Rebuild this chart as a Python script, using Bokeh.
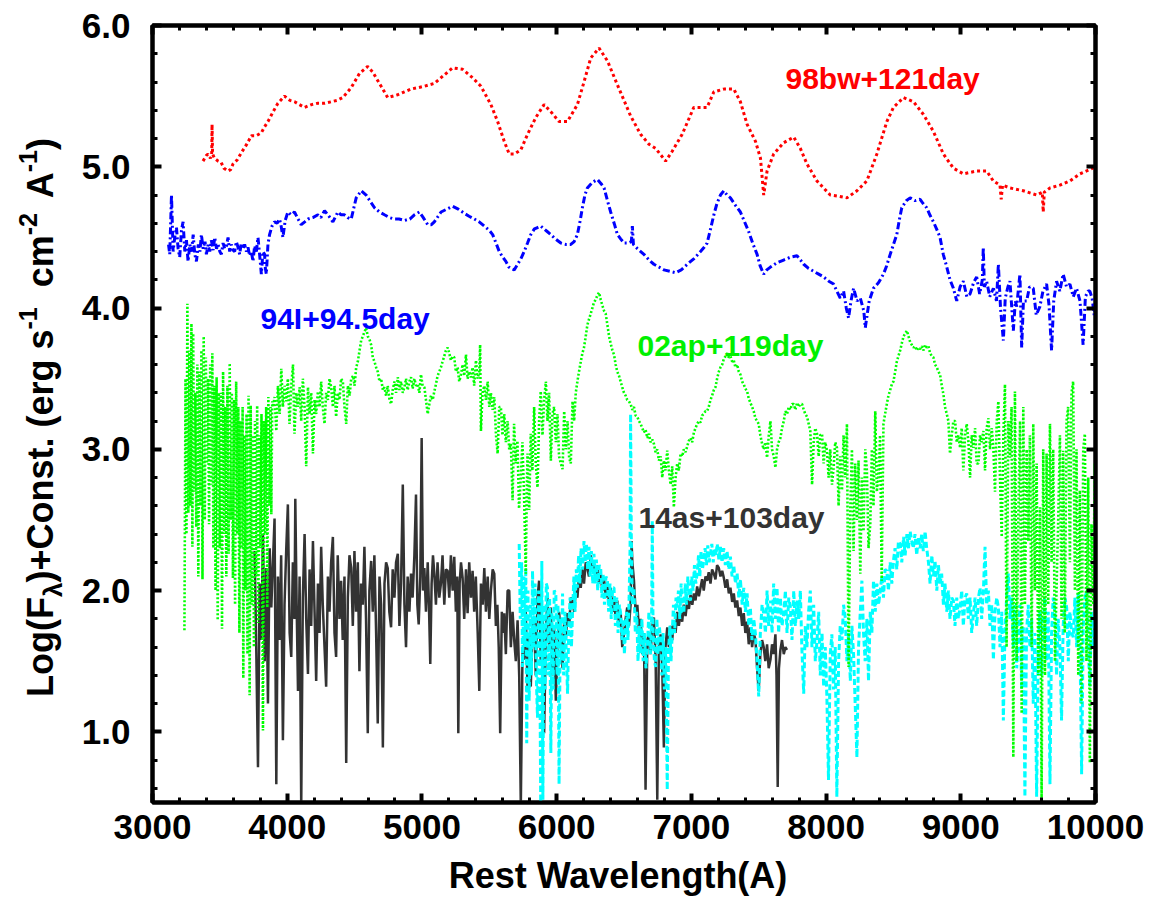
import math
from bokeh.plotting import figure
from bokeh.layouts import row, column
from bokeh.models import (Range1d, LinearAxis, FixedTicker, PrintfTickFormatter,
                          CustomJSTickFormatter, Label, Div)
from bokeh.embed import file_html
from bokeh.resources import INLINE

# ---------------- data ----------------
X_TICKS = [3000, 4000, 5000, 6000, 7000, 8000, 9000, 10000]
Y_TICKS = [1.0, 2.0, 3.0, 4.0, 5.0, 6.0]

SN98BW = [(3375,5.04),(3400,5.08),(3412,5.09),(3430,5.06),(3440,5.10),(3442,5.30),(3446,5.09),(3460,5.06),
 (3487,5.04),(3510,5.03),(3530,4.99),(3561,4.97),(3580,4.98),(3598,5.02),(3630,5.05),(3660,5.10),(3700,5.16),
 (3734,5.22),(3770,5.22),(3808,5.24),(3830,5.28),(3857,5.32),(3890,5.38),(3931,5.45),(3980,5.50),(4020,5.47),
 (4055,5.46),(4090,5.44),(4129,5.42),(4180,5.44),(4228,5.45),(4280,5.45),(4326,5.46),(4370,5.47),(4413,5.49),
 (4475,5.56),(4536,5.66),(4598,5.71),(4635,5.67),(4697,5.57),(4746,5.49),(4821,5.51),(4870,5.53),(4919,5.55),
 (4970,5.56),(5018,5.57),(5092,5.59),(5166,5.65),(5228,5.70),(5302,5.69),(5376,5.63),(5438,5.57),(5512,5.44),
 (5562,5.32),(5611,5.18),(5648,5.09),(5685,5.09),(5734,5.12),(5784,5.23),(5846,5.35),(5907,5.44),(5957,5.39),
 (6018,5.32),(6080,5.32),(6154,5.44),(6203,5.60),(6253,5.77),(6315,5.84),(6377,5.75),(6451,5.58),(6549,5.36),
 (6623,5.23),(6685,5.16),(6735,5.13),(6809,5.04),(6858,5.11),(6932,5.23),(7018,5.42),(7117,5.42),(7167,5.53),
 (7241,5.55),(7315,5.55),(7364,5.46),(7414,5.30),(7476,5.18),(7513,5.06),(7537,4.80),(7562,4.97),(7611,5.09),
 (7685,5.17),(7760,5.21),(7809,5.13),(7858,5.02),(7932,4.90),(8031,4.80),(8100,4.79),(8155,4.78),(8229,4.83),
 (8303,4.90),(8377,5.09),(8451,5.32),(8500,5.42),(8575,5.49),(8649,5.46),(8723,5.37),(8797,5.25),(8871,5.09),
 (8945,4.99),(9019,4.95),(9118,4.97),(9192,4.97),(9241,4.90),(9291,4.87),(9300,4.77),(9310,4.87),(9365,4.85),
 (9464,4.83),(9563,4.80),(9605,4.82),(9612,4.68),(9620,4.82),(9662,4.85),(9736,4.87),(9810,4.90),(9884,4.95),
 (9958,4.98),(10000,5.00)]

SN94I = [(3119,4.45),(3128,4.38),(3141,4.80),(3153,4.40),(3165,4.50),(3178,4.57),(3190,4.42),(3202,4.36),
 (3215,4.55),(3227,4.61),(3240,4.40),(3252,4.48),(3264,4.33),(3277,4.45),(3290,4.40),(3302,4.52),(3314,4.38),
 (3326,4.33),(3340,4.45),(3352,4.40),(3363,4.52),(3376,4.42),(3390,4.47),(3400,4.38),(3413,4.45),(3425,4.40),
 (3437,4.48),(3450,4.41),(3462,4.50),(3475,4.42),(3487,4.45),(3500,4.40),(3511,4.38),(3524,4.46),(3536,4.42),
 (3549,4.44),(3561,4.50),(3573,4.40),(3585,4.45),(3598,4.41),(3610,4.40),(3622,4.47),(3635,4.43),(3647,4.38),
 (3659,4.46),(3672,4.42),(3684,4.45),(3697,4.40),(3709,4.43),(3721,4.37),(3734,4.40),(3746,4.33),(3758,4.44),
 (3771,4.40),(3783,4.50),(3795,4.38),(3808,4.24),(3820,4.40),(3832,4.38),(3838,4.28),(3845,4.24),(3857,4.45),
 (3869,4.52),(3887,4.58),(3906,4.61),(3925,4.60),(3943,4.63),(3955,4.58),(3968,4.50),(3985,4.62),(4005,4.68),
 (4030,4.66),(4054,4.68),(4080,4.63),(4104,4.59),(4130,4.61),(4154,4.63),(4190,4.64),(4228,4.66),(4250,4.64),
 (4277,4.69),(4310,4.65),(4339,4.61),(4376,4.68),(4400,4.66),(4425,4.66),(4450,4.64),(4475,4.63),(4512,4.78),
 (4549,4.83),(4586,4.80),(4620,4.75),(4648,4.71),(4685,4.68),(4722,4.66),(4760,4.64),(4796,4.63),(4830,4.63),
 (4870,4.62),(4910,4.63),(4944,4.66),(4981,4.68),(5010,4.64),(5043,4.59),(5070,4.59),(5092,4.61),(5142,4.68),
 (5185,4.70),(5228,4.72),(5270,4.70),(5315,4.67),(5350,4.65),(5389,4.63),(5425,4.61),(5463,4.58),(5500,4.55),
 (5525,4.52),(5550,4.46),(5574,4.40),(5600,4.36),(5623,4.33),(5645,4.29),(5660,4.28),(5685,4.27),(5710,4.31),
 (5735,4.35),(5759,4.40),(5784,4.46),(5808,4.52),(5835,4.56),(5858,4.57),(5882,4.58),(5907,4.56),(5932,4.54),
 (5957,4.52),(5990,4.49),(6031,4.46),(6070,4.45),(6105,4.45),(6130,4.47),(6154,4.52),(6175,4.62),(6191,4.71),
 (6210,4.80),(6228,4.85),(6265,4.89),(6303,4.91),(6330,4.88),(6352,4.85),(6380,4.75),(6401,4.68),(6430,4.59),
 (6451,4.52),(6475,4.49),(6500,4.46),(6530,4.46),(6555,4.47),(6562,4.58),(6570,4.45),(6600,4.42),(6648,4.38),
 (6697,4.33),(6722,4.31),(6760,4.29),(6796,4.27),(6840,4.26),(6883,4.25),(6925,4.27),(6970,4.31),(7020,4.35),
 (7068,4.40),(7095,4.43),(7117,4.46),(7140,4.55),(7167,4.66),(7190,4.74),(7216,4.80),(7241,4.83),(7265,4.80),
 (7290,4.78),(7325,4.73),(7364,4.68),(7395,4.61),(7426,4.54),(7455,4.46),(7488,4.38),(7510,4.30),(7537,4.24),
 (7560,4.27),(7587,4.29),(7635,4.32),(7685,4.34),(7735,4.36),(7784,4.37),(7810,4.34),(7834,4.31),(7870,4.28),
 (7908,4.26),(7945,4.24),(7982,4.22),(8020,4.19),(8056,4.17),(8080,4.12),(8105,4.07),(8130,4.12),(8150,4.00),
 (8167,3.93),(8185,4.05),(8204,4.14),(8230,4.05),(8254,4.07),(8280,3.98),(8291,3.86),(8303,3.94),(8320,4.05),
 (8352,4.14),(8390,4.18),(8426,4.24),(8450,4.30),(8476,4.38),(8500,4.45),(8525,4.52),(8545,4.63),(8562,4.71),
 (8595,4.76),(8624,4.78),(8660,4.76),(8698,4.77),(8720,4.74),(8747,4.71),(8770,4.66),(8797,4.61),(8820,4.56),
 (8846,4.50),(8870,4.38),(8896,4.29),(8920,4.20),(8945,4.14),(8970,4.05),(8995,4.15),(9019,4.19),(9045,4.08),
 (9069,4.10),(9095,4.18),(9118,4.22),(9140,4.10),(9160,4.20),(9167,4.43),(9175,4.15),(9192,4.19),(9215,4.08),
 (9242,4.14),(9265,4.05),(9279,4.31),(9295,4.00),(9316,3.77),(9330,4.07),(9350,4.15),(9365,4.19),(9390,3.84),
 (9405,4.05),(9415,4.01),(9439,4.24),(9452,3.72),(9465,4.05),(9489,4.05),(9510,4.15),(9538,4.14),(9560,3.95),
 (9587,4.01),(9610,4.12),(9637,4.17),(9655,4.02),(9674,3.70),(9690,4.05),(9711,4.19),(9735,4.12),(9760,4.24),
 (9785,4.15),(9810,4.17),(9835,4.08),(9859,4.14),(9885,4.05),(9908,3.74),(9925,4.08),(9945,4.12),(9958,4.12),
 (9975,4.07),(9990,3.95),(10000,4.05)]

SN02AP = [(3237,1.72),(3245,3.50),(3252,2.40),(3259,4.03),(3266,2.55),(3274,3.70),(3281,2.60),(3289,3.89),
 (3296,2.31),(3302,3.82),(3310,2.70),(3318,3.40),(3325,2.45),(3333,3.60),(3340,2.10),(3348,3.55),(3356,2.60),
 (3363,3.70),(3371,2.08),(3380,3.80),(3388,2.50),(3396,3.65),(3404,2.90),(3412,3.50),(3420,2.47),(3428,3.60),
 (3436,2.75),(3444,3.68),(3452,2.30),(3460,3.45),(3468,2.00),(3476,3.51),(3484,1.79),(3492,3.40),(3500,2.30),
 (3508,3.40),(3516,1.73),(3524,3.55),(3532,2.40),(3540,3.30),(3548,2.10),(3556,3.45),(3565,2.26),(3573,3.61),
 (3581,2.50),(3589,3.40),(3597,2.09),(3605,3.35),(3613,1.90),(3621,3.48),(3629,2.40),(3637,3.30),(3645,1.70),
 (3653,3.20),(3661,2.30),(3669,3.30),(3674,1.38),(3682,3.10),(3690,2.00),(3698,3.25),(3705,1.55),(3713,3.38),
 (3721,1.26),(3729,3.31),(3737,1.90),(3745,3.10),(3753,1.60),(3761,3.20),(3769,2.10),(3777,3.31),(3785,1.77),
 (3793,3.10),(3801,2.30),(3809,3.25),(3820,1.01),(3828,3.20),(3836,2.40),(3844,3.30),(3852,1.88),(3860,3.37),
 (3868,2.60),(3876,3.30),(3882,2.54),(3889,3.34),
 (3895,3.30),(3906,3.37),(3919,3.13),(3931,3.45),(3944,3.25),(3956,3.57),(3968,3.30),(3981,3.45),(3993,3.34),
 (4005,3.50),(4017,3.18),(4030,3.45),(4043,3.60),(4054,3.11),(4067,3.40),(4080,3.30),(4092,3.44),(4104,3.20),
 (4116,3.50),(4129,3.30),(4141,2.88),(4154,3.44),(4166,3.25),(4178,3.40),(4191,2.97),(4203,3.35),(4215,3.25),
 (4228,3.41),(4240,3.30),(4252,3.48),(4264,3.30),(4277,3.18),(4289,3.40),(4302,3.35),(4314,3.50),(4326,3.44),
 (4339,3.30),(4351,3.45),(4363,3.23),(4376,3.40),(4388,3.35),(4400,3.50),(4413,3.48),(4425,3.30),(4438,3.18),
 (4450,3.45),(4463,3.38),(4475,3.50),(4490,3.52),(4500,3.45),(4512,3.58),(4524,3.62),(4537,3.70),(4549,3.77),
 (4561,3.80),(4573,3.83),(4586,3.86),(4598,3.80),(4610,3.78),(4623,3.74),(4635,3.65),(4648,3.62),(4660,3.58),
 (4672,3.55),(4685,3.48),(4697,3.50),(4710,3.42),(4721,3.44),(4734,3.38),(4746,3.45),(4758,3.36),(4771,3.32),
 (4783,3.42),(4796,3.48),(4808,3.40),(4821,3.51),(4833,3.42),(4845,3.48),(4858,3.40),(4870,3.44),(4882,3.50),
 (4894,3.42),(4907,3.48),(4919,3.51),(4931,3.43),(4944,3.50),(4956,3.45),(4969,3.46),(4981,3.40),(4993,3.53),
 (5005,3.45),(5018,3.44),(5030,3.35),(5043,3.25),(5055,3.32),(5067,3.38),(5080,3.35),(5092,3.41),(5104,3.46),
 (5116,3.52),(5129,3.55),(5141,3.58),(5153,3.62),(5166,3.66),(5178,3.70),(5191,3.72),(5203,3.68),(5215,3.63),
 (5228,3.66),(5240,3.65),(5252,3.55),(5265,3.58),(5277,3.48),(5290,3.53),(5302,3.60),(5314,3.52),(5327,3.67),
 (5339,3.50),(5351,3.55),(5364,3.51),(5376,3.58),(5388,3.45),(5401,3.63),(5413,3.50),(5426,3.55),(5432,3.74),
 (5438,3.13),(5450,3.40),(5463,3.45),(5475,3.35),(5488,3.48),(5500,3.30),(5512,3.40),(5525,3.28),(5537,3.37),
 (5550,3.10),(5562,2.97),(5574,3.30),(5586,3.30),(5598,3.10),(5611,3.25),(5623,3.05),(5636,3.20),(5648,3.00),
 (5660,3.04),(5673,2.64),(5684,3.18),(5697,2.90),(5709,3.06),(5721,2.58),(5734,2.80),(5746,3.05),(5759,2.64),
 (5771,2.12),(5778,2.70),(5784,2.97),(5796,2.57),(5808,3.11),(5820,2.85),(5833,3.30),(5845,2.90),(5858,2.73),
 (5870,3.20),(5882,3.41),(5895,3.10),(5907,3.35),(5920,3.48),(5932,3.20),(5944,3.40),(5957,2.92),(5969,3.25),
 (5981,3.30),(5994,3.05),(6006,3.25),(6018,2.95),(6031,2.90),(6044,2.86),(6056,3.27),(6068,3.00),(6081,3.20),
 (6093,2.94),(6105,2.90),(6118,3.34),(6130,3.20),(6142,3.40),(6154,3.48),(6166,3.55),(6179,3.62),(6191,3.68),
 (6203,3.72),(6216,3.80),(6228,3.88),(6240,3.92),(6253,3.96),(6265,4.00),(6277,4.04),(6290,4.06),(6302,4.09),
 (6315,4.11),(6327,4.06),(6339,4.02),(6352,3.98),(6364,3.96),(6377,3.88),(6389,3.80),(6401,3.75),(6414,3.70),
 (6426,3.67),(6438,3.60),(6450,3.55),(6463,3.52),(6475,3.48),(6487,3.44),(6500,3.40),(6512,3.38),(6524,3.35),
 (6537,3.34),(6549,3.32),(6562,3.28),(6574,3.30),(6586,3.24),(6599,3.23),(6611,3.20),(6623,3.18),(6636,3.15),
 (6648,3.12),(6660,3.14),(6673,3.08),(6685,3.11),(6697,3.05),(6710,3.07),(6722,3.04),(6734,2.98),(6747,3.00),
 (6759,2.92),(6772,2.95),(6784,2.80),(6796,2.92),(6808,2.85),(6821,2.99),(6833,2.85),(6846,2.75),(6858,2.88),
 (6870,2.59),(6883,2.80),(6895,2.90),(6907,2.85),(6920,2.97),(6932,2.95),(6944,3.00),(6957,2.98),(6969,3.02),
 (6981,3.06),(6994,3.08),(7006,3.05),(7019,3.12),(7031,3.15),(7043,3.18),(7056,3.20),(7068,3.19),(7080,3.24),
 (7092,3.25),(7105,3.27),(7117,3.27),(7129,3.30),(7142,3.35),(7154,3.38),(7167,3.42),(7179,3.44),(7191,3.50),
 (7204,3.55),(7216,3.58),(7229,3.60),(7241,3.64),(7254,3.66),(7266,3.68),(7278,3.65),(7290,3.66),(7303,3.62),
 (7315,3.63),(7327,3.58),(7340,3.60),(7352,3.55),(7364,3.53),(7377,3.48),(7389,3.46),(7401,3.43),(7414,3.41),
 (7426,3.36),(7438,3.33),(7451,3.30),(7463,3.27),(7475,3.22),(7488,3.20),(7500,3.18),(7512,3.10),(7525,3.04),
 (7537,3.00),(7550,3.05),(7562,2.94),(7575,3.10),(7587,3.20),(7599,3.00),(7612,2.95),(7624,2.87),(7636,3.00),
 (7648,3.05),(7661,3.08),(7673,3.15),(7686,3.20),(7698,3.27),(7710,3.25),(7723,3.30),(7735,3.28),(7747,3.32),
 (7760,3.32),(7772,3.28),(7785,3.33),(7797,3.30),(7809,3.32),(7822,3.32),(7834,3.28),(7846,3.25),(7859,3.23),
 (7871,3.18),(7883,3.13),(7896,2.75),(7908,3.05),(7920,3.15),(7933,3.11),(7945,2.95),(7957,3.10),(7970,3.11),
 (7982,2.90),(7994,3.05),(8007,2.99),(8019,2.80),(8031,3.00),(8044,2.75),(8056,2.87),(8068,3.05),(8081,3.01),
 (8093,2.60),(8105,2.95),(8118,2.71),(8130,3.10),(8142,2.80),(8155,3.18),(8167,1.46),(8180,2.59),(8192,3.00),
 (8204,2.28),(8216,2.90),(8229,2.50),(8241,2.92),(8254,2.12),(8266,2.80),(8278,2.42),(8291,3.00),(8303,2.85),
 (8315,2.30),(8328,2.47),(8340,3.00),(8352,2.60),(8365,3.27),(8377,2.70),(8389,2.80),(8401,3.10),(8413,2.07),
 (8426,3.18),(8438,3.25),(8451,3.32),(8463,3.38),(8476,3.42),(8488,3.46),(8500,3.48),(8513,3.55),(8525,3.62),
 (8537,3.66),(8550,3.70),(8562,3.75),(8575,3.80),(8587,3.82),(8600,3.84),(8612,3.80),(8624,3.76),(8636,3.74),
 (8649,3.72),(8661,3.73),(8673,3.70),(8686,3.72),(8698,3.71),(8710,3.73),(8723,3.70),(8735,3.74),(8747,3.72),
 (8760,3.73),(8772,3.68),(8785,3.66),(8797,3.65),(8809,3.60),(8822,3.58),(8834,3.55),(8846,3.53),(8859,3.45),
 (8871,3.39),(8883,3.30),(8896,3.25),(8908,3.20),(8920,2.97),(8933,3.10),(8945,3.20),(8958,3.20),(8970,3.05),
 (8982,3.10),(8995,3.01),(9007,3.15),(9019,2.85),(9032,3.10),(9044,3.18),(9057,3.05),(9069,2.80),(9081,3.10),
 (9094,3.01),(9106,3.15),(9118,2.90),(9131,2.90),(9143,3.10),(9155,3.05),(9168,3.13),(9180,2.85),(9192,3.15),
 (9205,3.22),(9217,3.00),(9230,3.15),(9242,3.01),(9254,2.70),(9267,3.20),(9279,3.34),(9291,2.80),(9304,2.38),
 (9316,3.10),(9328,3.46),(9340,1.60),(9353,3.20),(9365,2.94),(9377,3.30),(9390,0.82),(9402,3.41),(9415,1.50),
 (9427,2.52),(9440,3.20),(9452,1.13),(9464,3.30),(9476,1.90),(9489,3.00),(9501,2.35),(9513,3.10),(9526,1.60),
 (9538,3.18),(9550,2.00),(9563,2.90),(9575,1.40),(9588,2.59),(9600,0.52),(9612,3.00),(9625,1.40),(9637,2.97),
 (9649,1.90),(9662,3.18),(9674,2.20),(9686,3.00),(9699,1.50),(9711,2.02),(9723,2.49),(9736,3.10),(9748,1.80),
 (9760,2.99),(9772,1.70),(9785,3.20),(9797,3.30),(9810,2.20),(9822,3.40),(9834,3.48),(9847,2.00),(9859,3.00),
 (9872,1.40),(9884,2.71),(9896,1.20),(9909,3.00),(9921,3.11),(9933,1.50),(9946,2.80),(9958,0.78),(9970,2.47),
 (9983,1.90),(9995,2.90),(10000,2.60)]

SN14AS = [(3758,2.28),(3770,1.60),(3783,0.75),(3795,2.05),(3808,1.65),(3820,2.40),(3833,1.50),(3845,2.16),
 (3857,1.20),(3870,2.30),(3882,1.88),(3894,2.20),(3906,2.51),(3919,0.63),(3931,2.10),(3943,1.65),(3955,2.25),
 (3968,0.94),(3980,1.90),(3993,2.30),(4005,2.61),(4018,1.70),(4030,1.53),(4042,2.20),(4054,1.80),(4060,2.65),
 (4070,1.90),(4080,1.29),(4092,2.10),(4104,0.47),(4116,1.95),(4129,2.40),(4141,1.80),(4154,1.41),(4166,2.15),
 (4178,1.75),(4191,2.35),(4203,1.85),(4215,1.36),(4228,2.05),(4240,1.70),(4252,2.31),(4264,1.90),(4277,1.60),
 (4289,1.32),(4302,2.10),(4314,1.85),(4326,2.20),(4339,2.38),(4351,1.70),(4363,1.53),(4375,2.25),(4388,1.80),
 (4400,2.07),(4412,1.65),(4425,2.10),(4438,0.78),(4450,1.95),(4462,2.25),(4475,2.16),(4487,1.75),(4499,2.28),
 (4511,1.85),(4524,2.20),(4536,1.43),(4548,2.05),(4561,1.90),(4573,2.31),(4585,1.80),(4598,0.99),(4610,2.00),
 (4623,2.21),(4635,1.85),(4647,2.25),(4660,1.70),(4672,1.06),(4685,2.10),(4697,1.90),(4710,0.89),(4722,2.05),
 (4734,2.20),(4746,2.16),(4758,1.85),(4771,1.74),(4783,2.15),(4796,1.95),(4808,2.20),(4821,2.26),(4833,1.75),
 (4845,2.05),(4858,2.75),(4870,1.90),(4882,1.60),(4894,2.10),(4907,1.85),(4919,2.12),(4931,1.95),(4944,2.25),
 (4956,2.68),(4966,1.90),(4976,1.76),(4988,2.10),(4998,3.08),(5008,2.00),(5018,2.16),(5030,1.85),(5043,2.20),
 (5052,1.90),(5062,1.48),(5072,2.05),(5082,2.25),(5092,2.12),(5104,1.90),(5116,2.20),(5129,1.95),(5141,2.05),
 (5153,2.25),(5166,1.90),(5178,2.15),(5191,2.14),(5203,1.95),(5215,2.25),(5228,2.00),(5240,2.24),(5252,1.85),
 (5262,2.10),(5270,0.99),(5280,2.05),(5290,2.20),(5302,2.09),(5314,1.80),(5327,2.15),(5339,1.84),(5351,2.20),
 (5364,1.95),(5376,2.14),(5388,1.85),(5400,2.10),(5414,1.70),(5426,1.29),(5438,2.05),(5451,1.90),(5463,2.16),
 (5475,1.85),(5488,2.10),(5500,1.80),(5512,2.00),(5525,2.15),(5537,2.12),(5549,1.75),(5560,1.90),(5570,1.60),
 (5581,0.99),(5593,1.85),(5600,1.70),(5611,1.84),(5623,1.55),(5636,2.00),(5648,2.00),(5660,1.60),(5673,1.85),
 (5685,1.65),(5697,1.50),(5710,1.79),(5722,1.40),(5734,0.47),(5747,1.60),(5759,1.51),(5771,1.85),(5784,1.30),
 (5796,1.70),(5808,1.32),(5821,1.75),(5833,1.81),(5845,1.40),(5858,1.95),(5870,2.07),(5882,1.50),(5895,1.80),
 (5907,0.99),(5920,1.70),(5932,1.95),(5944,1.60),(5957,1.88),(5969,1.40),(5981,1.75),(5994,1.22),(6006,1.60),
 (6018,1.85),(6031,1.69),(6044,1.45),(6056,1.80),(6068,1.65),(6080,1.84),(6093,1.75),(6105,1.95),(6118,1.93),
 (6130,1.85),(6142,2.00),(6154,1.95),(6166,2.10),(6179,2.02),(6191,2.15),(6203,2.05),(6216,2.20),(6228,2.16),
 (6240,2.10),(6253,2.25),(6265,2.15),(6277,2.19),(6290,2.10),(6302,2.18),(6314,2.05),(6327,2.12),(6339,2.00),
 (6352,2.08),(6364,1.95),(6377,2.05),(6389,1.90),(6401,2.02),(6414,1.85),(6426,1.95),(6438,1.80),(6450,1.93),
 (6463,1.75),(6475,1.85),(6487,1.60),(6500,1.69),(6512,1.80),(6524,1.88),(6537,1.75),(6549,1.90),(6556,2.35),
 (6562,2.20),(6574,2.07),(6586,1.85),(6599,1.90),(6611,1.72),(6623,1.80),(6636,1.55),(6648,1.70),(6660,0.59),
 (6673,1.65),(6685,1.69),(6697,1.55),(6710,1.75),(6722,1.81),(6735,1.50),(6747,0.52),(6759,1.60),(6772,1.69),
 (6784,1.45),(6796,0.89),(6808,1.60),(6821,1.74),(6833,1.60),(6846,1.75),(6858,1.65),(6870,1.79),(6883,1.70),
 (6895,1.85),(6907,1.75),(6920,1.84),(6932,1.78),(6944,1.90),(6957,1.82),(6970,1.93),(6982,1.87),(6994,1.97),
 (7007,1.90),(7019,1.98),(7031,1.93),(7043,2.03),(7056,1.96),(7068,2.02),(7080,2.08),(7092,2.00),(7105,2.10),
 (7117,2.07),(7129,2.13),(7142,2.05),(7154,2.15),(7167,2.12),(7179,2.08),(7191,2.18),(7204,2.16),(7216,2.10),
 (7229,2.14),(7241,2.09),(7253,2.02),(7266,2.08),(7278,1.98),(7290,2.02),(7303,1.92),(7315,1.98),(7327,1.88),
 (7340,1.93),(7352,1.82),(7364,1.88),(7377,1.75),(7389,1.84),(7401,1.70),(7414,1.78),(7426,1.62),(7438,1.74),
 (7451,1.60),(7463,1.70),(7476,1.65),(7488,1.45),(7500,1.29),(7512,1.55),(7525,1.65),(7537,1.60),(7549,1.50),
 (7562,1.62),(7574,1.45),(7587,1.51),(7599,1.62),(7611,1.55),(7624,1.69),(7632,1.40),(7641,0.61),(7650,1.45),
 (7661,1.58),(7673,1.65),(7686,1.55),(7698,1.60),(7710,1.58)]

SN14AS_EXT = [(5722,2.33),(5730,1.80),(5740,2.20),(5747,1.46),(5757,2.10),(5765,1.60),(5771,2.16),(5778,0.92),
 (5787,2.00),(5796,1.22),(5805,1.90),(5813,1.40),(5821,2.14),(5830,1.60),(5840,2.05),(5850,1.35),(5858,1.10),
 (5866,2.00),(5875,1.50),(5882,0.47),(5890,2.21),(5898,0.52),(5906,1.90),(5915,1.30),(5923,2.05),(5932,2.02),
 (5940,1.40),(5948,1.95),(5957,0.85),(5965,1.85),(5974,1.30),(5982,2.00),(5994,1.98),(6003,1.40),(6010,1.90),
 (6018,0.63),(6027,1.80),(6035,1.50),(6044,1.98),(6052,1.40),(6062,1.85),(6072,1.55),(6081,1.27),(6090,1.75),
 (6100,1.95),(6110,1.60),(6118,1.84),(6128,2.10),(6137,1.85),(6146,2.15),(6154,2.02),(6163,2.25),(6172,2.05),
 (6181,2.30),(6192,2.15),(6203,2.35),(6212,2.20),(6221,2.33),(6230,2.15),(6240,2.31),(6249,2.10),(6258,2.28),
 (6268,2.05),(6277,2.26),(6286,2.05),(6295,2.22),(6305,2.00),(6316,2.18),(6327,2.16),(6336,1.95),(6345,2.12),
 (6355,1.90),(6366,2.10),(6377,2.07),(6386,1.85),(6396,2.05),(6405,1.80),(6416,2.02),(6426,2.02),(6436,1.75),
 (6446,1.95),(6456,1.70),(6466,1.90),(6475,1.84),(6485,1.65),(6495,1.80),(6503,1.55),(6512,1.74),(6520,1.85),
 (6530,1.65),(6538,1.95),(6545,2.30),(6549,3.25),(6554,2.40),(6562,1.90),(6574,2.02),(6584,1.70),(6594,1.85),
 (6604,1.50),(6614,1.75),(6623,1.55),(6633,1.80),(6642,1.50),(6652,1.70),(6663,1.45),(6673,1.60),(6685,1.85),
 (6697,1.55),(6705,1.80),(6710,2.49),(6716,1.70),(6726,1.50),(6735,1.46),(6744,1.80),(6753,1.55),(6762,1.75),
 (6772,1.65),(6781,1.40),(6790,1.70),(6800,1.30),(6810,1.60),(6821,0.59),(6830,1.55),(6840,1.75),(6849,1.50),
 (6858,1.69),(6867,1.90),(6876,1.70),(6886,1.95),(6895,1.88),(6904,2.00),(6914,1.80),(6924,2.05),(6934,1.85),
 (6944,1.84),(6954,2.05),(6964,1.90),(6974,2.10),(6984,1.95),(6994,1.93),(7003,2.10),(7013,2.00),(7023,2.18),
 (7033,2.05),(7043,2.12),(7053,2.25),(7063,2.10),(7072,2.28),(7082,2.15),(7092,2.21),(7102,2.30),(7112,2.18),
 (7122,2.32),(7132,2.20),(7142,2.26),(7152,2.33),(7162,2.20),(7172,2.30),(7182,2.25),(7192,2.33),(7204,2.22),
 (7216,2.31),(7228,2.20),(7240,2.30),(7252,2.18),(7265,2.28),(7278,2.15),(7290,2.24),(7302,2.10),(7315,2.18),
 (7327,2.05),(7340,2.12),(7352,1.95),(7364,2.08),(7377,1.90),(7389,2.02),(7401,1.85),(7414,1.98),(7426,1.75),
 (7438,1.88),(7450,1.65),(7463,1.80),(7476,1.69),(7488,1.50),(7500,1.25),(7512,1.70),(7525,1.90),(7537,1.84),
 (7550,1.70),(7562,2.00),(7574,1.75),(7587,1.93),(7599,1.70),(7611,2.05),(7624,1.80),(7636,2.02),(7648,1.70),
 (7661,1.95),(7673,1.75),(7686,1.84),(7698,2.00),(7710,1.70),(7723,1.95),(7735,1.88),(7747,1.65),(7760,2.00),
 (7772,1.75),(7785,1.93),(7797,1.80),(7809,2.00),(7820,1.60),(7834,1.27),(7846,1.75),(7858,1.60),(7870,1.85),
 (7883,2.00),(7895,1.60),(7908,1.90),(7920,1.50),(7933,1.65),(7945,1.85),(7957,1.40),(7970,1.70),(7982,1.32),
 (7994,1.60),(8006,1.25),(8018,0.66),(8031,1.55),(8043,1.69),(8055,1.30),(8068,1.60),(8080,0.54),(8093,1.50),
 (8105,1.75),(8118,1.65),(8130,1.90),(8142,1.81),(8155,1.50),(8167,1.70),(8180,1.36),(8192,1.75),(8204,1.55),
 (8216,1.20),(8229,0.82),(8241,1.60),(8254,1.85),(8266,2.07),(8278,1.70),(8290,1.50),(8303,1.80),(8315,1.36),
 (8328,1.85),(8340,1.70),(8352,2.07),(8365,1.85),(8377,2.05),(8390,1.90),(8402,2.00),(8414,2.10),(8426,1.95),
 (8438,2.15),(8451,2.14),(8463,2.00),(8476,2.20),(8488,2.05),(8500,2.21),(8512,2.30),(8525,2.15),(8537,2.35),
 (8550,2.33),(8562,2.20),(8575,2.38),(8587,2.25),(8600,2.40),(8612,2.30),(8624,2.42),(8636,2.35),(8648,2.30),
 (8660,2.40),(8673,2.25),(8685,2.38),(8698,2.30),(8710,2.40),(8722,2.28),(8735,2.42),(8747,2.30),(8760,2.20),
 (8772,2.05),(8785,2.25),(8797,2.10),(8809,2.21),(8822,2.00),(8834,2.18),(8846,2.05),(8858,2.12),(8871,1.90),
 (8883,2.05),(8896,1.85),(8908,2.00),(8920,1.80),(8933,1.95),(8945,1.93),(8957,1.75),(8970,1.95),(8982,1.80),
 (8995,1.88),(9007,2.00),(9019,1.75),(9032,1.95),(9044,1.98),(9056,1.80),(9069,1.95),(9081,1.70),(9094,1.84),
 (9106,1.95),(9118,1.75),(9131,1.95),(9143,2.02),(9155,1.80),(9168,2.00),(9180,2.31),(9192,1.90),(9205,2.00),
 (9217,1.75),(9230,1.90),(9242,1.51),(9254,1.85),(9267,1.95),(9279,1.88),(9291,1.60),(9304,1.85),(9316,1.08),
 (9328,1.70),(9340,1.95),(9353,2.12),(9365,1.80),(9377,1.95),(9390,1.60),(9402,1.90),(9415,1.45),(9427,1.65),
 (9439,1.90),(9452,1.30),(9464,1.75),(9476,0.54),(9488,1.70),(9501,1.90),(9513,1.60),(9526,1.80),(9538,1.20),
 (9550,1.70),(9563,0.54),(9575,1.60),(9587,1.85),(9600,1.40),(9612,1.79),(9624,1.95),(9637,1.50),(9649,1.85),
 (9662,0.63),(9674,1.70),(9686,1.95),(9699,1.84),(9711,1.40),(9723,1.80),(9736,1.60),(9748,1.08),(9760,1.75),
 (9773,1.95),(9786,1.88),(9798,1.50),(9810,1.85),(9823,1.70),(9835,1.67),(9847,1.95),(9860,1.60),(9872,1.98),
 (9885,1.60),(9897,0.70),(9909,1.75),(9922,1.95),(9934,2.00),(9946,1.60),(9958,1.32),(9970,1.85),(9983,1.60),
 (9995,1.80),(10000,1.75)]

# ---------------- layout constants (page pixels) ----------------
W, H = 1151, 899
YW = 70                                      # strip holding the y-axis title
XH = 40                                      # strip holding the x-axis title
PH = H - XH                                  # height of the plot row
FL, FR, FT, FB = 152, 1095, 25, 802          # frame edges on the page
XMIN, XMAX, YMIN, YMAX = 3000, 10000, 0.5, 6.0
FONT = "Liberation Sans"


def dx(px):
    return XMIN + (px - FL) * (XMAX - XMIN) / (FR - FL)


def dy(py):
    return YMAX - (py - FT) * (YMAX - YMIN) / (FB - FT)


p = figure(width=W - YW, height=PH, output_backend="svg", toolbar_location=None,
           x_range=Range1d(XMIN, XMAX), y_range=Range1d(YMIN, YMAX),
           min_border_left=FL - YW, min_border_right=W - FR,
           min_border_top=FT, min_border_bottom=PH - FB,
           x_axis_location=None, y_axis_location=None)
p.grid.visible = False
p.outline_line_color = "black"
p.outline_line_width = 4
p.background_fill_color = "white"
p.border_fill_color = "white"


def series(data, color, dash, width):
    pts = sorted(data)
    xs = [a for a, b in pts]
    ys = [b for a, b in pts]
    p.line(xs, ys, line_color=color, line_dash=dash, line_width=width)


series(SN14AS, "#333333", "solid", 2.5)
series(SN14AS_EXT, "#00ffff", "6 3", 3)
series(SN02AP, "#00ff00", "2 2", 2.6)
series(SN94I, "#0000ff", "7 3 2 3", 3)
series(SN98BW, "#ff0000", "3 3", 3)


def style_axis(ax, labels):
    ax.axis_line_width = 4
    ax.axis_line_color = "black"
    ax.major_tick_in = 9
    ax.major_tick_out = 0
    ax.minor_tick_in = 5
    ax.minor_tick_out = 0
    ax.major_tick_line_width = 4
    ax.minor_tick_line_width = 3
    ax.major_label_text_font = FONT
    ax.major_label_text_font_style = "bold"
    ax.major_label_text_color = "black"
    if labels:
        ax.major_label_text_font_size = "35px"
    else:
        ax.major_label_text_font_size = "0px"
        ax.formatter = CustomJSTickFormatter(code="return ''")
        ax.major_label_standoff = 0


xt = FixedTicker(ticks=X_TICKS, minor_ticks=list(range(3000, 10001, 200)))
yt = FixedTicker(ticks=Y_TICKS, minor_ticks=[round(0.6 + 0.2 * i, 1) for i in range(28)])

xb = LinearAxis(ticker=xt)
style_axis(xb, True)
xb.major_label_standoff = 12
p.add_layout(xb, "below")

xa = LinearAxis(ticker=xt)
style_axis(xa, False)
p.add_layout(xa, "above")

yl = LinearAxis(ticker=yt, formatter=PrintfTickFormatter(format="%.1f"))
style_axis(yl, True)
yl.major_label_standoff = 22
p.add_layout(yl, "left")

yr = LinearAxis(ticker=yt)
style_axis(yr, False)
p.add_layout(yr, "right")


def lab(text, px, py, size, color):
    p.add_layout(Label(x=dx(px), y=dy(py), text=text,
                       text_font=FONT, text_font_style="bold",
                       text_font_size=f"{size}px", text_color=color,
                       text_align="left", text_baseline="alphabetic"))


# series names
lab("98bw+121day", 785, 78, 30, "#ff0000")
lab("94I+94.5day", 260, 318, 30, "#0000ff")
lab("02ap+119day", 637, 345, 30, "#00f000")
lab("14as+103day", 638, 517, 30, "#333333")

# ---------------- y-axis title (rotated, with sub/superscripts) ----------------
SUB = "font-size:26px;position:relative;top:9px;line-height:0"
SUP = "font-size:25px;position:relative;top:-16px;line-height:0"
BASE = ("white-space:nowrap;font-family:'Liberation Sans';font-weight:bold;"
        "font-size:36px;line-height:36px;color:#000")
ytitle = (
    '<div style="position:relative;width:%dpx;height:%dpx;margin:0;padding:0;overflow:visible">'
    '<div style="position:absolute;left:0;top:0;transform-origin:0 0;'
    'transform:translate(22.5px,697px) rotate(-90deg);%s">'
    'Log(F<span style="%s">\u03bb</span>)+Const. (erg s'
    '<span style="%s;margin-right:10px">-1</span> cm'
    '<span style="%s;margin-right:6px">-2</span> A'
    '<span style="%s">-1</span>)'
    '</div></div>'
) % (YW, PH, BASE, SUB, SUP, SUP, SUP)
ydiv = Div(text=ytitle, width=YW, height=PH, margin=0)

# ---------------- x-axis title (baseline at page y = 888, centred at x = 618) ----------------
xtitle = (
    '<div style="position:relative;width:%dpx;height:%dpx;margin:0;padding:0;overflow:visible">'
    '<div style="position:absolute;left:618px;top:%.1fpx;transform:translateX(-50%%);%s">'
    'Rest Wavelength(A)</div></div>'
) % (W, XH, 888 - PH - 30.5, BASE)
xdiv = Div(text=xtitle, width=W, height=XH, margin=0)

layout = column(row(ydiv, p, spacing=0), xdiv, spacing=0)
open("out.html", "w").write(file_html(layout, INLINE))
